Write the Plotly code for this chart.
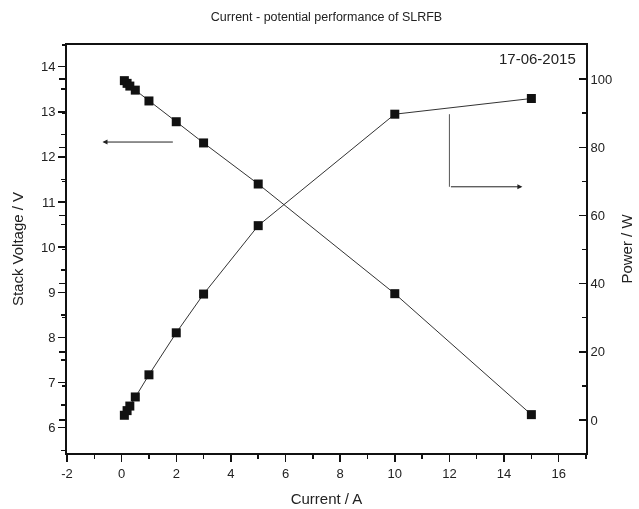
import plotly.graph_objects as go

# ---- data ----
current = [0.1, 0.2, 0.3, 0.5, 1, 2, 3, 5, 10, 15]
voltage = [13.69, 13.63, 13.57, 13.48, 13.24, 12.78, 12.31, 11.40, 8.97, 6.29]
power = [1.37, 2.73, 4.07, 6.74, 13.24, 25.56, 36.93, 57.0, 89.7, 94.3]

x_tickvals = [-2, 0, 2, 4, 6, 8, 10, 12, 14, 16]
x_ticktext = ["-2", "0", "2", "4", "6", "8", "10", "12", "14", "16"]

title_text = "Current - potential performance of SLRFB"
date_text = "17-06-2015"
x_title = "Current / A"
y_title = "Stack Voltage / V"
y2_title = "Power / W"

FONT = "Liberation Sans, Arial, sans-serif"

fig = go.Figure()

fig.add_trace(go.Scatter(
    x=current, y=voltage, mode="lines+markers", yaxis="y",
    line=dict(color="#333333", width=1),
    marker=dict(symbol="square", size=9, color="#111111"),
    showlegend=False, hoverinfo="skip"))

fig.add_trace(go.Scatter(
    x=current, y=power, mode="lines+markers", yaxis="y2",
    line=dict(color="#333333", width=1),
    marker=dict(symbol="square", size=9, color="#111111"),
    showlegend=False, hoverinfo="skip"))

# invisible trace to carry the extra left-side power ticks
fig.add_trace(go.Scatter(
    x=current, y=power, mode="markers", yaxis="y3", opacity=0,
    showlegend=False, hoverinfo="skip"))

P_RANGE = [-9.7, 110]

fig.update_layout(
    width=639, height=509,
    paper_bgcolor="white", plot_bgcolor="white",
    margin=dict(l=67, r=53, t=45, b=56, autoexpand=False),
    font=dict(family=FONT, size=13, color="#222222"),
    title=dict(text=title_text, x=0.511, xanchor="center", y=0.968,
               yanchor="middle", font=dict(size=12.5, family=FONT)),
    xaxis=dict(
        range=[-2, 17], tickmode="array", tickvals=x_tickvals,
        ticktext=x_ticktext, ticks="outside", ticklen=7,
        tickwidth=1.5, tickcolor="#111111",
        minor=dict(dtick=1, tick0=0, ticks="outside", ticklen=4,
                   tickwidth=1.5, tickcolor="#111111"),
        showline=True, linewidth=2, linecolor="#111111", mirror=True,
        showgrid=False, zeroline=False, automargin=False,
        title=dict(text=x_title, font=dict(size=15), standoff=14),
        tickfont=dict(size=13)),
    yaxis=dict(
        range=[5.44, 14.48], dtick=1, tick0=0, ticks="outside", ticklen=7,
        tickwidth=1.5, tickcolor="#111111",
        minor=dict(dtick=0.5, ticks="outside", ticklen=4, tickwidth=1.5,
                   tickcolor="#111111"),
        showline=True, linewidth=2, linecolor="#111111",
        showgrid=False, zeroline=False, automargin=False,
        title=dict(text=y_title, font=dict(size=15), standoff=14),
        tickfont=dict(size=13)),
    yaxis2=dict(
        range=P_RANGE, dtick=20, tick0=0, overlaying="y", side="right",
        ticks="inside", ticklen=7, tickwidth=1.5, tickcolor="#111111",
        minor=dict(dtick=10, ticks="inside", ticklen=4, tickwidth=1.5,
                   tickcolor="#111111"),
        showline=True, linewidth=2, linecolor="#111111",
        showgrid=False, zeroline=False, automargin=False,
        title=dict(text=y2_title, font=dict(size=15), standoff=10),
        tickfont=dict(size=13)),
    yaxis3=dict(
        range=P_RANGE, dtick=20, tick0=0, overlaying="y", side="left",
        ticks="outside", ticklen=7, tickwidth=1.5, tickcolor="#111111",
        minor=dict(dtick=10, ticks="outside", ticklen=4, tickwidth=1.5,
                   tickcolor="#111111"),
        showticklabels=False, showline=False, automargin=False,
        showgrid=False, zeroline=False),
)

# date label
fig.add_annotation(text=date_text, xref="paper", yref="paper",
                   x=0.985, y=0.992, xanchor="right", yanchor="top",
                   showarrow=False, font=dict(size=15, family=FONT))

# arrow pointing to voltage axis
ARROW1 = dict(tip=(-0.7, 12.33), tail=(1.93, 12.33))
fig.add_annotation(x=ARROW1["tip"][0], y=ARROW1["tip"][1],
                   ax=ARROW1["tail"][0], ay=ARROW1["tail"][1],
                   xref="x", yref="y", axref="x", ayref="y",
                   text="", showarrow=True, arrowhead=2, arrowsize=1,
                   arrowwidth=1, arrowcolor="#222222")

# bent arrow pointing to power axis
ARROW2 = dict(top=(12.0, 89.7), corner=(12.0, 68.4), tip=(14.67, 68.4))
fig.add_shape(type="line", xref="x", yref="y2",
              x0=ARROW2["top"][0], y0=ARROW2["top"][1],
              x1=ARROW2["corner"][0], y1=ARROW2["corner"][1],
              line=dict(color="#555555", width=1))
fig.add_annotation(x=ARROW2["tip"][0], y=ARROW2["tip"][1],
                   ax=ARROW2["corner"][0], ay=ARROW2["corner"][1],
                   xref="x", yref="y2", axref="x", ayref="y2",
                   text="", showarrow=True, arrowhead=2, arrowsize=1,
                   arrowwidth=1, arrowcolor="#222222")

fig.write_html(
    "out.html",
    config={"displayModeBar": False, "staticPlot": True},
    post_script="document.body.style.margin='0px';"
                "document.body.style.overflow='hidden';",
)
